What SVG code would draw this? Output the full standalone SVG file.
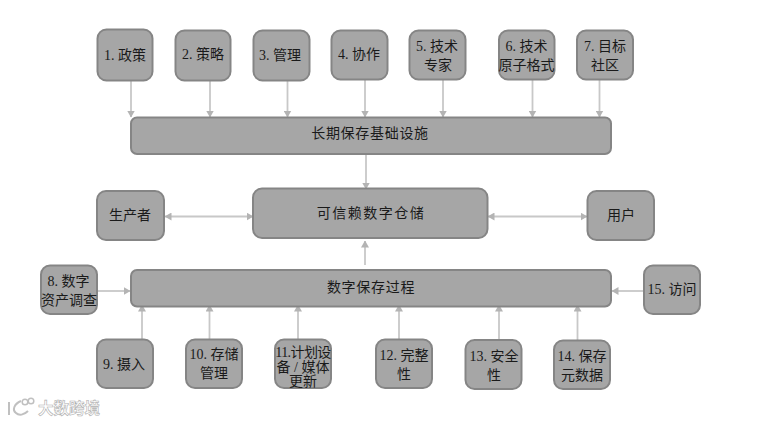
<svg xmlns="http://www.w3.org/2000/svg" width="763" height="423" viewBox="0 0 763 423">
<style>
.n{fill:#a6a6a6;stroke:#858585;stroke-width:2}
text{font-family:"Liberation Serif","Noto Sans CJK SC",serif;font-size:14px;fill:#1a1a1a;text-anchor:middle}
.c line{stroke:#c8c8c8;stroke-width:1.8;fill:none}
.a{fill:#b4b4b4}
.wide{letter-spacing:.7px}
.wider{letter-spacing:1.5px}
.tight{letter-spacing:-.6px}
.w{font-family:"Noto Sans CJK SC",sans-serif;font-size:15.500px;font-weight:700;fill:#fff;stroke:#b0b0b0;stroke-width:.6;text-anchor:start}
</style>
<defs>
<marker id="e" viewBox="0 0 7 8" refX="6.500" refY="4" markerWidth="7" markerHeight="8" markerUnits="userSpaceOnUse" orient="auto-start-reverse"><path class="a" d="M0 0L7 4L0 8Z"/></marker>
</defs>
<rect width="763" height="423" fill="#fff"/>
<g id="connectors" class="c">
<line x1="131" y1="81" x2="131" y2="117" marker-end="url(#e)"/>
<line x1="210" y1="81" x2="210" y2="117" marker-end="url(#e)"/>
<line x1="287.500" y1="81" x2="287.500" y2="117" marker-end="url(#e)"/>
<line x1="365" y1="80" x2="365" y2="117" marker-end="url(#e)"/>
<line x1="443" y1="80" x2="443" y2="117" marker-end="url(#e)"/>
<line x1="532.500" y1="80" x2="532.500" y2="117" marker-end="url(#e)"/>
<line x1="599.500" y1="80" x2="599.500" y2="117" marker-end="url(#e)"/>
<line x1="366" y1="154" x2="366" y2="189" marker-end="url(#e)"/>
<line x1="165" y1="216.500" x2="253" y2="216.500" marker-start="url(#e)" marker-end="url(#e)"/>
<line x1="488" y1="216.500" x2="587" y2="216.500" marker-start="url(#e)" marker-end="url(#e)"/>
<line x1="365" y1="265" x2="365" y2="241" marker-end="url(#e)"/>
<line x1="98" y1="291" x2="130" y2="291" marker-end="url(#e)"/>
<line x1="644" y1="291" x2="612" y2="291" marker-end="url(#e)"/>
<line x1="142" y1="339" x2="142" y2="305" marker-end="url(#e)"/>
<line x1="209.500" y1="339" x2="209.500" y2="305" marker-end="url(#e)"/>
<line x1="298" y1="339" x2="298" y2="305" marker-end="url(#e)"/>
<line x1="399" y1="339" x2="399" y2="305" marker-end="url(#e)"/>
<line x1="499" y1="340" x2="499" y2="305" marker-end="url(#e)"/>
<line x1="577.500" y1="340" x2="577.500" y2="305" marker-end="url(#e)"/>
</g>
<g id="n1"><rect class="n" x="97.500" y="29.500" width="55" height="51" rx="9"/><text x="125" y="60">1. 政策</text></g>
<g id="n2"><rect class="n" x="175.500" y="30.500" width="55" height="50" rx="9"/><text x="203" y="59">2. 策略</text></g>
<g id="n3"><rect class="n" x="253.500" y="30.500" width="56" height="50" rx="9"/><text x="280" y="60">3. 管理</text></g>
<g id="n4"><rect class="n" x="331.500" y="30.500" width="56" height="49" rx="9"/><text x="359" y="59">4. 协作</text></g>
<g id="n5"><rect class="n" x="409.500" y="30.500" width="56" height="49" rx="9"/><text x="437" y="51">5. 技术</text><text x="438" y="70">专家</text></g>
<g id="n6"><rect class="n" x="499" y="30.500" width="55.500" height="49" rx="9"/><text x="526.500" y="51">6. 技术</text><text x="526.500" y="70">原子格式</text></g>
<g id="n7"><rect class="n" x="577" y="30.500" width="56" height="49" rx="9"/><text x="605" y="51">7. 目标</text><text x="605" y="70">社区</text></g>
<g id="infra"><rect class="n" x="131" y="117.500" width="480" height="36.500" rx="6"/><text class="wide" x="370" y="138">长期保存基础设施</text></g>
<g id="producer"><rect class="n" x="97" y="191" width="67" height="49" rx="9"/><text x="130" y="220">生产者</text></g>
<g id="repo"><rect class="n" x="253" y="188.500" width="234.500" height="49.500" rx="9"/><text class="wider" x="371" y="218">可信赖数字仓储</text></g>
<g id="user"><rect class="n" x="587.500" y="191" width="66.500" height="49" rx="9"/><text x="621" y="220">用户</text></g>
<g id="process"><rect class="n" x="131" y="270" width="480" height="36.500" rx="6"/><text class="wide" x="371" y="292">数字保存过程</text></g>
<g id="n8"><rect class="n" x="41" y="265.500" width="56" height="48.500" rx="9"/><text x="68.500" y="286">8. 数字</text><text x="69" y="305">资产调查</text></g>
<g id="n15"><rect class="n" x="644" y="265.500" width="56" height="48.500" rx="9"/><text x="672" y="294">15. 访问</text></g>
<g id="n9"><rect class="n" x="97" y="339.500" width="56" height="48.500" rx="9"/><text x="124" y="369">9. 摄入</text></g>
<g id="n10"><rect class="n" x="186" y="339.500" width="56" height="48.500" rx="9"/><text x="214" y="359">10. 存储</text><text x="214" y="378">管理</text></g>
<g id="n11"><rect class="n" x="275" y="339.500" width="56" height="48.500" rx="9"/><text class="tight" x="303" y="357">11.计划设</text><text x="303" y="371.500">备 / 媒体</text><text x="303" y="386">更新</text></g>
<g id="n12"><rect class="n" x="376" y="339.500" width="56" height="48.500" rx="9"/><text x="404" y="360">12. 完整</text><text x="404" y="379">性</text></g>
<g id="n13"><rect class="n" x="465.500" y="340" width="56" height="49" rx="9"/><text x="494" y="361">13. 安全</text><text x="494" y="380">性</text></g>
<g id="n14"><rect class="n" x="554" y="340.500" width="56" height="48.500" rx="9"/><text x="582" y="361">14. 保存</text><text x="582" y="380">元数据</text></g>
<g id="watermark" fill="none" stroke="#c0c0c0" stroke-width="2">
<path d="M9 402V415M21 401C14 404 12 410 16 413C19 416 24 415 28 411"/>
<circle cx="25" cy="402" r="2.800" stroke-width="1.500"/><circle cx="31" cy="401" r="2.800" stroke-width="1.500"/>
<text class="w" x="38" y="414">大数跨境</text>
</g>
</svg>
